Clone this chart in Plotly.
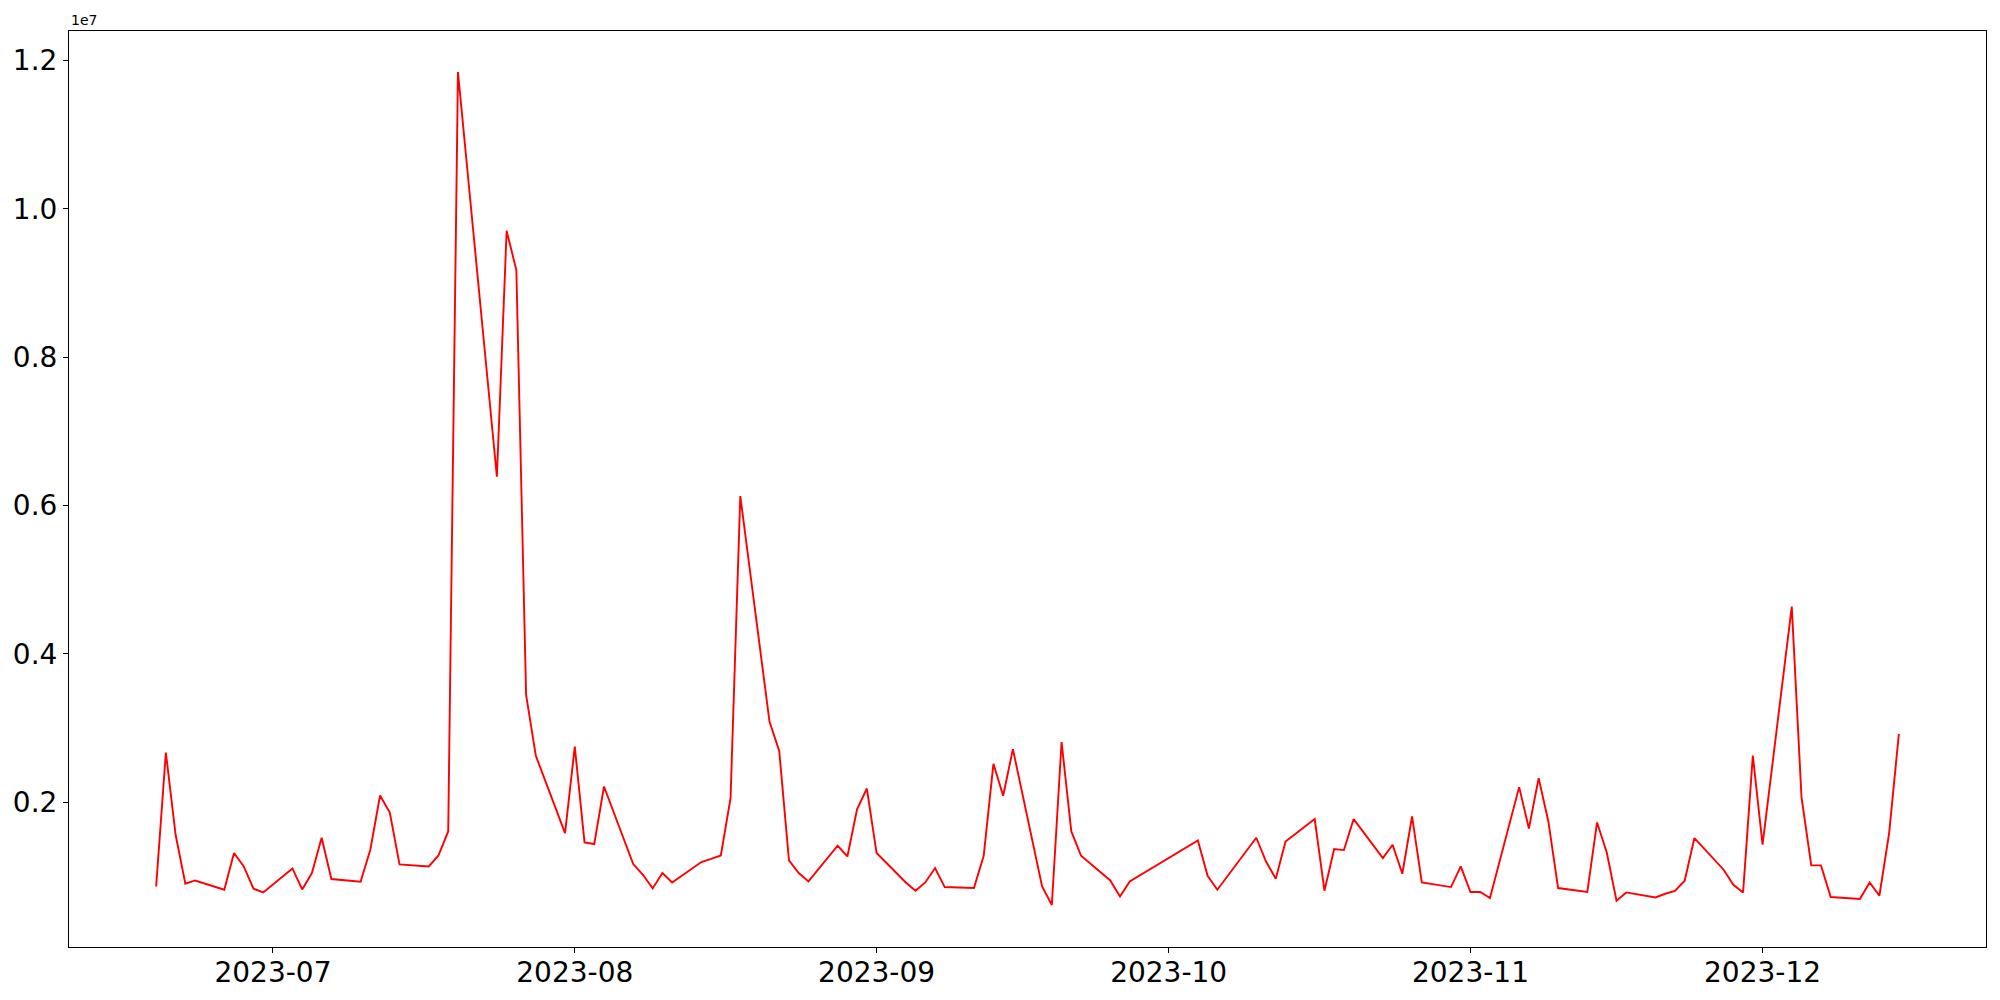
import plotly.graph_objects as go

# Data
dates = [
    "2023-06-19", "2023-06-20", "2023-06-21", "2023-06-22", "2023-06-23",
    "2023-06-26", "2023-06-27", "2023-06-28", "2023-06-29", "2023-06-30",
    "2023-07-03", "2023-07-04", "2023-07-05", "2023-07-06", "2023-07-07",
    "2023-07-10", "2023-07-11", "2023-07-12", "2023-07-13", "2023-07-14",
    "2023-07-17", "2023-07-18", "2023-07-19", "2023-07-20",
    "2023-07-24", "2023-07-25", "2023-07-26", "2023-07-27", "2023-07-28",
    "2023-07-31", "2023-08-01", "2023-08-02", "2023-08-03", "2023-08-04",
    "2023-08-07", "2023-08-08", "2023-08-09", "2023-08-10", "2023-08-11",
    "2023-08-14", "2023-08-15", "2023-08-16", "2023-08-17", "2023-08-18",
    "2023-08-21", "2023-08-22", "2023-08-23", "2023-08-24", "2023-08-25",
    "2023-08-28", "2023-08-29", "2023-08-30", "2023-08-31", "2023-09-01",
    "2023-09-04", "2023-09-05", "2023-09-06", "2023-09-07", "2023-09-08",
    "2023-09-11", "2023-09-12", "2023-09-13", "2023-09-14", "2023-09-15",
    "2023-09-18", "2023-09-19", "2023-09-20", "2023-09-21", "2023-09-22",
    "2023-09-25", "2023-09-26", "2023-09-27",
    "2023-10-04", "2023-10-05", "2023-10-06",
    "2023-10-10", "2023-10-11", "2023-10-12", "2023-10-13",
    "2023-10-16", "2023-10-17", "2023-10-18", "2023-10-19", "2023-10-20",
    "2023-10-23", "2023-10-24", "2023-10-25", "2023-10-26", "2023-10-27",
    "2023-10-30", "2023-10-31", "2023-11-01", "2023-11-02", "2023-11-03",
    "2023-11-06", "2023-11-07", "2023-11-08", "2023-11-09", "2023-11-10",
    "2023-11-13", "2023-11-14", "2023-11-15", "2023-11-16", "2023-11-17",
    "2023-11-20", "2023-11-21", "2023-11-22", "2023-11-23", "2023-11-24",
    "2023-11-27", "2023-11-28", "2023-11-29", "2023-11-30", "2023-12-01",
    "2023-12-04", "2023-12-05", "2023-12-06", "2023-12-07", "2023-12-08",
    "2023-12-11", "2023-12-12", "2023-12-13", "2023-12-14", "2023-12-15",
]

values = [
    862000, 2668000, 1559000, 899000, 943000,
    818000, 1313000, 1132000, 832000, 782000,
    1105000, 822000, 1043000, 1519000, 962000,
    926000, 1357000, 2089000, 1860000, 1159000,
    1132000, 1280000, 1604000, 11846000,
    6388000, 9704000, 9174000, 3446000, 2624000,
    1582000, 2749000, 1456000, 1434000, 2210000,
    1164000, 1020000, 836000, 1043000, 916000,
    1191000, 1235000, 1280000, 2054000, 6128000,
    3086000, 2691000, 1213000, 1043000, 930000,
    1411000, 1267000, 1906000, 2183000, 1313000,
    916000, 805000, 916000, 1110000, 854000,
    841000, 1276000, 2516000, 2085000, 2714000,
    862000, 612000, 2809000, 1604000, 1276000,
    943000, 728000, 930000,
    1482000, 1007000, 818000,
    1519000, 1199000, 966000, 1469000,
    1771000, 805000, 1367000, 1353000, 1771000,
    1245000, 1425000, 1034000, 1806000, 916000,
    854000, 1132000, 787000, 787000, 706000,
    2202000, 1644000, 2323000, 1739000, 841000,
    787000, 1725000, 1321000, 670000, 782000,
    714000, 764000, 801000, 939000, 1515000,
    1088000, 885000, 782000, 2628000, 1425000,
    4636000, 2067000, 1146000, 1146000, 720000,
    693000, 916000, 737000, 1582000, 2920000,
]

y_tick_values = [2000000, 4000000, 6000000, 8000000, 10000000, 12000000]
y_tick_labels = ["0.2", "0.4", "0.6", "0.8", "1.0", "1.2"]
x_tick_values = ["2023-07-01", "2023-08-01", "2023-09-01", "2023-10-01", "2023-11-01", "2023-12-01"]
x_tick_labels = ["2023-07", "2023-08", "2023-09", "2023-10", "2023-11", "2023-12"]

fig = go.Figure()
fig.add_trace(go.Scatter(
    x=dates, y=values, mode="lines",
    line=dict(color="#ff0000", width=1.9),
    showlegend=False,
))

axis_common = dict(
    showgrid=False, zeroline=False,
    showline=True, linecolor="black", linewidth=1.1, mirror=True,
    ticks="outside", ticklen=5, tickwidth=1.1, tickcolor="black",
    tickfont=dict(family="DejaVu Sans", size=28, color="black"),
)

fig.update_layout(
    width=2000, height=1000,
    margin=dict(l=61, r=22, t=23, b=61, autoexpand=False),
    paper_bgcolor="white", plot_bgcolor="white",
    font=dict(family="DejaVu Sans", color="black"),
    xaxis=dict(
        type="date",
        range=["2023-06-10 01:12", "2023-12-23 22:48"],
        tickvals=x_tick_values, ticktext=x_tick_labels,
        ticklabelstandoff=-5,
        **axis_common,
    ),
    yaxis=dict(
        range=[45800, 12399000],
        tickvals=y_tick_values, ticktext=y_tick_labels,
        **axis_common,
    ),
    annotations=[dict(
        text="1e7", xref="paper", yref="paper", x=0, y=1,
        xanchor="left", yanchor="bottom", yshift=1, showarrow=False,
        font=dict(family="DejaVu Sans", size=14, color="black"),
    )],
)

fig.write_html("out.html")
